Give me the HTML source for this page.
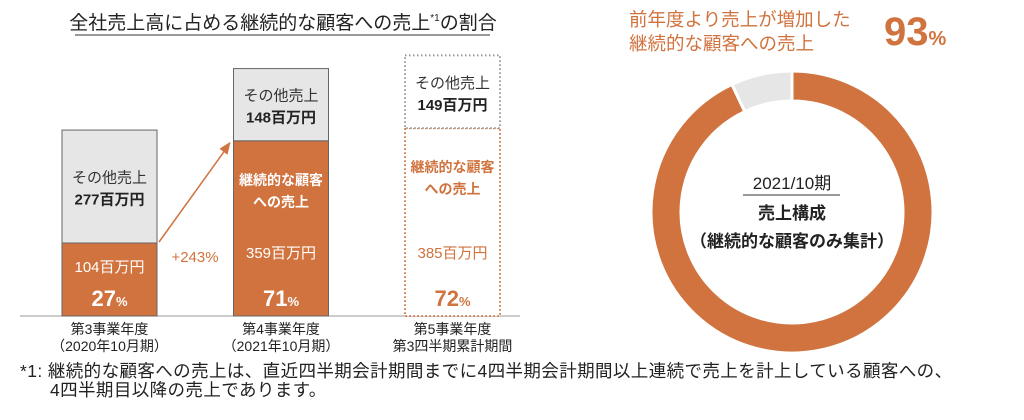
<!DOCTYPE html>
<html><head><meta charset="utf-8">
<style>
body{margin:0;width:1024px;height:415px;background:#fff;overflow:hidden;font-family:"Liberation Sans","Noto Sans CJK JP",sans-serif;}
svg text{font-family:"Liberation Sans","Noto Sans CJK JP",sans-serif;}
</style></head>
<body>
<svg id="chart" width="1024" height="415" viewBox="0 0 1024 415" xmlns="http://www.w3.org/2000/svg">
<text x="283" y="29" text-anchor="middle" font-size="19" fill="#222">全社売上高に占める継続的な顧客への売上<tspan font-size="10" dy="-8">*1</tspan><tspan dy="8">の割合</tspan></text>
<line x1="75" y1="35" x2="490" y2="35" stroke="#333" stroke-width="1"/>
<line x1="20" y1="316" x2="520" y2="316" stroke="#999" stroke-width="1"/>
<g id="bars"></g>
<text x="20" y="377" font-size="17.5" letter-spacing="0.4" fill="#222">*1: 継続的な顧客への売上は、直近四半期会計期間までに4四半期会計期間以上連続で売上を計上している顧客への、</text>
<text x="50" y="396" font-size="17.5" letter-spacing="0.4" fill="#222">4四半期目以降の売上であります。</text>

<text x="629" y="26" font-size="18.5" fill="#D0733E">前年度より売上が増加した</text>
<text x="629" y="50" font-size="18.5" fill="#D0733E">継続的な顧客への売上</text>
<text x="884" y="45" font-size="40" font-weight="bold" fill="#D0733E">93<tspan font-size="20">%</tspan></text>
<g id="donut"></g>
<text x="792" y="189" text-anchor="middle" font-size="17" fill="#222">2021/10期</text>
<line x1="743" y1="195" x2="840" y2="195" stroke="#333" stroke-width="1"/>
<text x="792" y="219" text-anchor="middle" font-size="17" font-weight="bold" fill="#222">売上構成</text>
<text x="792" y="247" text-anchor="middle" font-size="17" font-weight="bold" fill="#222">（継続的な顧客のみ集計）</text>
</svg>
<script>
const categories=["第3事業年度|（2020年10月期）","第4事業年度|（2021年10月期）","第5事業年度|第3四半期累計期間"];
const recurring=[104,359,385];
const other=[277,148,149];
const shares=[27,71,72];
const growthLabel="+243%";
const donutValues=[93,7];

const NS="http://www.w3.org/2000/svg";
const svg=document.getElementById('bars');
const OR="#D0733E",GR="#E6E6E6";
function mk(t,a,p){const e=document.createElementNS(NS,t);for(const k in a)e.setAttribute(k,a[k]);(p||svg).appendChild(e);return e;}
const base=316,scale=0.488,bw=95;
const xs=i=>62+i*171.5;
const h=v=>Math.max(v*scale,73);
let tops=[];
categories.forEach((c,i)=>{
  const x=xs(i),dotted=i===2;
  const oh=h(recurring[i]);
  const oy=base-oh;
  const gy=base-(recurring[i]+other[i])*scale;
  const gh=oy-gy;
  tops.push(oy);
  let r=mk('rect',{x:x,y:oy,width:bw,height:oh,fill:dotted?'#fff':OR,stroke:dotted?OR:'#666','stroke-width':dotted?2:1,'stroke-dasharray':dotted?'1.5 2.5':''});
  
  
  let g=mk('rect',{x:x,y:gy,width:bw,height:gh,fill:dotted?'#fff':GR,stroke:dotted?'#999':'#666','stroke-width':dotted?2:1,'stroke-dasharray':dotted?'1.5 2.5':''});
  
  
  const cx=x+bw/2,tc=dotted?OR:'#fff';
  let t=mk('text',{x:cx,y:gy+gh/2-4,'text-anchor':'middle','font-size':15,fill:'#333'});t.textContent='その他売上';
  
  
  t=mk('text',{x:cx,y:gy+gh/2+18,'text-anchor':'middle','font-size':15,'font-weight':'bold',fill:'#222'});t.textContent=other[i]+'百万円';
  
  
  if(i>0){
    t=mk('text',{x:cx,y:oy+44,'text-anchor':'middle','font-size':14,'font-weight':'bold',fill:tc});t.textContent='継続的な顧客';
    
    
    t=mk('text',{x:cx,y:oy+66,'text-anchor':'middle','font-size':14,'font-weight':'bold',fill:tc});t.textContent='への売上';
    
    
  }
  t=mk('text',{x:cx,y:i===0?base-44:base-58,'text-anchor':'middle','font-size':15,fill:tc});t.textContent=recurring[i]+'百万円';
  
  
  t=mk('text',{x:cx,y:base-10,'text-anchor':'middle','font-size':22,'font-weight':'bold',fill:tc});t.innerHTML=shares[i]+'<tspan font-size="13">%</tspan>';
  
  
  const parts=c.split('|');
  parts.forEach((p,j)=>{t=mk('text',{x:cx,y:334+j*17,'text-anchor':'middle','font-size':14,fill:'#222'});t.textContent=p;
  
  });
});
let ar=mk('line',{x1:xs(0)+bw+2,y1:tops[0]-1,x2:xs(1)-6,y2:tops[1]+6,stroke:OR,'stroke-width':1.5});


let ah=mk('polygon',{points:`${xs(1)-3},${tops[1]+1} ${xs(1)-14},${tops[1]+8} ${xs(1)-6},${tops[1]+14}`,fill:OR});


let gt=mk('text',{x:195,y:262,'text-anchor':'middle','font-size':15,fill:OR});gt.textContent=growthLabel;



const dg=document.getElementById('donut');
const cx=792,cy=212,R=141,r=111;
const total=donutValues.reduce((a,b)=>a+b,0);
let a0=0;
donutValues.forEach((v,i)=>{
  const a1=a0+v/total*2*Math.PI;
  const p=(ang,rad)=>[cx+rad*Math.sin(ang),cy-rad*Math.cos(ang)];
  const large=(a1-a0)>Math.PI?1:0;
  const [x1,y1]=p(a0,R),[x2,y2]=p(a1,R),[x3,y3]=p(a1,r),[x4,y4]=p(a0,r);
  const path=mk('path',{d:`M${x1},${y1} A${R},${R} 0 ${large} 1 ${x2},${y2} L${x3},${y3} A${r},${r} 0 ${large} 0 ${x4},${y4} Z`,fill:i===0?OR:GR,stroke:'#fff','stroke-width':3},dg);
  
  
  a0=a1;
});
</script>
</body></html>
